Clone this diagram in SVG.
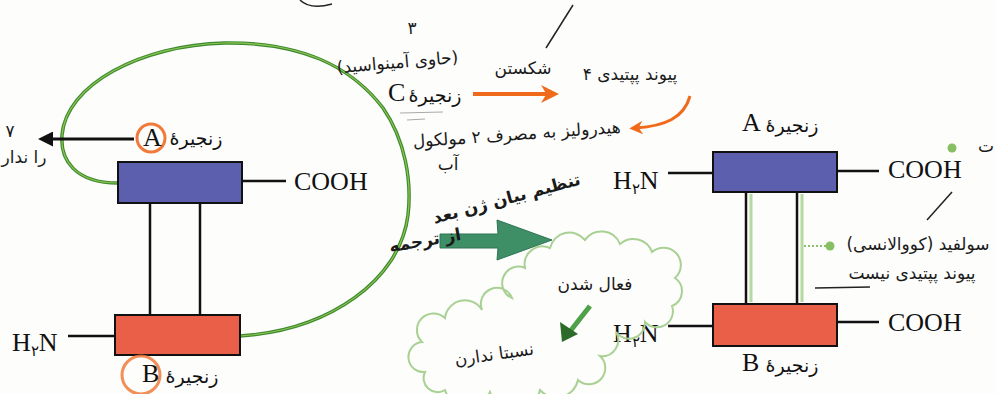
<svg xmlns="http://www.w3.org/2000/svg" width="996" height="394" viewBox="0 0 996 394">
<style>
.bar{stroke:#111;stroke-width:2}
.blue{fill:#5c5eae}
.red{fill:#ea5f47}
.ln{stroke:#111;stroke-width:2.5;fill:none}
.lat{font-family:"Liberation Serif",serif;font-size:26px;fill:#111}
.fa{font-family:"DejaVu Sans",sans-serif;font-size:19px;fill:#111;text-anchor:middle}
.hw{font-family:"DejaVu Sans",sans-serif;font-size:17px;fill:#1a1a1a;text-anchor:middle}
.ring{fill:none;stroke:#f07a3a;stroke-width:3}
.gmark{stroke:#a9d592;stroke-width:3;opacity:.85}
</style>
<defs>
<marker id="blk" viewBox="0 0 10 10" refX="2" refY="5" markerWidth="5" markerHeight="5" orient="auto-start-reverse"><path d="M0,0 L10,5 L0,10 z" fill="#111"/></marker>
<marker id="org" viewBox="0 0 10 10" refX="5" refY="5" markerWidth="4.5" markerHeight="4.5" orient="auto"><path d="M0,0 L10,5 L0,10 L3,5 z" fill="#f06a1c"/></marker>
</defs>
<rect width="996" height="394" fill="#fdfdfc"/>

<g id="connectors">
  <path d="M118,183 C75,183 60,160 62,135 C66,85 140,45 225,43 C300,42 350,65 383,108 C405,140 412,180 408,215 C400,280 330,330 240,336" fill="none" stroke="#3f8a2f" stroke-width="3.5"/>
  <path d="M118,183 C75,183 60,160 62,135 C66,85 140,45 225,43 C300,42 350,65 383,108 C405,140 412,180 408,215 C400,280 330,330 240,336" fill="none" stroke="#8cc653" stroke-width="1.2"/>
  <line x1="134" y1="139" x2="50" y2="139" stroke="#111" stroke-width="3" marker-end="url(#blk)"/>
  <line x1="473" y1="94" x2="550" y2="94" stroke="#f06a1c" stroke-width="4" marker-end="url(#org)"/>
  <path d="M690,96 C684,118 665,126 636,128" fill="none" stroke="#f06a1c" stroke-width="3" marker-end="url(#org)"/>
  <polygon points="440,234 498,234 497,220 552,240 497,260 498,248 440,248" fill="#3f8f66" stroke="#2f7352" stroke-width="1"/>
  <line x1="590" y1="306" x2="568" y2="334" stroke="#4ea04a" stroke-width="5"/>
  <polygon points="560,322 562,342 578,334" fill="#2d6b2a"/>
  <line x1="804" y1="246" x2="828" y2="246" stroke="#8cc070" stroke-width="2" stroke-dasharray="2 2"/>
  <circle cx="830" cy="246" r="4.5" fill="#86c063"/>
  <circle cx="952" cy="148" r="4.5" fill="#86c063"/>
</g>

<g id="chainA-left">
  <rect x="118" y="162" width="124" height="41" class="blue bar"/>
  <line x1="242" y1="181" x2="286" y2="181" class="ln"/>
  <text x="294" y="190" class="lat">COOH</text>
  <circle cx="151" cy="138" r="14" class="ring"/>
  <text x="143" y="146" class="lat" font-size="21">A</text>
  <text x="196" y="145" class="fa">زنجیرهٔ</text>
</g>
<g id="bridges-left">
  <line x1="150" y1="203" x2="150" y2="315" class="ln"/>
  <line x1="200" y1="203" x2="200" y2="315" class="ln"/>
</g>
<g id="chainB-left">
  <rect x="115" y="315" width="125" height="40" class="red bar"/>
  <line x1="68" y1="336" x2="115" y2="336" class="ln"/>
  <text x="12" y="351" class="lat">H<tspan font-size="15" dy="5">۲</tspan><tspan dy="-5">N</tspan></text>
  <circle cx="141" cy="375" r="19" class="ring" stroke-width="2.5" opacity=".85"/>
  <text x="142" y="382" class="lat" font-size="21">B</text>
  <text x="192" y="383" class="fa">زنجیرهٔ</text>
</g>
<g id="chainC">
  <text x="388" y="101" class="lat" font-size="20" fill="#1f2a5a">C</text>
  <text x="435" y="102" class="fa" fill="#1f2a5a">زنجیرهٔ</text>
  <path d="M400,113 L443,112 M407,120 L425,119" stroke="#aaa" stroke-width="1.2"/>
</g>

<g id="chainA-right">
  <text x="742" y="131" class="lat" font-size="20">A</text>
  <text x="792" y="132" class="fa">زنجیرهٔ</text>
  <rect x="713" y="152" width="124" height="40" class="blue bar"/>
  <line x1="668" y1="173" x2="713" y2="173" class="ln"/>
  <text x="613" y="189" class="lat">H<tspan font-size="15" dy="5">۲</tspan><tspan dy="-5">N</tspan></text>
  <line x1="837" y1="171" x2="879" y2="171" class="ln"/>
  <text x="888" y="178" class="lat">COOH</text>
</g>
<g id="bridges-right">
  <line x1="751" y1="194" x2="751" y2="302" class="gmark"/>
  <line x1="802" y1="194" x2="802" y2="302" class="gmark"/>
  <line x1="746" y1="192" x2="746" y2="304" class="ln"/>
  <line x1="797" y1="192" x2="797" y2="304" class="ln"/>
</g>
<g id="chainB-right">
  <rect x="713" y="304" width="124" height="42" class="red bar"/>
  <line x1="668" y1="326" x2="713" y2="326" class="ln"/>
  <text x="613" y="342" class="lat">H<tspan font-size="15" dy="5">۲</tspan><tspan dy="-5">N</tspan></text>
  <line x1="837" y1="322" x2="879" y2="322" class="ln"/>
  <text x="888" y="331" class="lat">COOH</text>
  <text x="742" y="371" class="lat" font-size="20">B</text>
  <text x="792" y="372" class="fa">زنجیرهٔ</text>
</g>

<g id="cloud">
  <path d="M425,372 A14,14 0 0 1 422,342 A16,16 0 0 1 445,318 A20,20 0 0 1 482,310 A16,16 0 0 1 512,298 A16,16 0 0 1 525,268 A18,18 0 0 1 550,248 A20,20 0 0 1 585,240 A20,20 0 0 1 620,244 A20,20 0 0 1 652,252 A16,16 0 0 1 675,278 A16,16 0 0 1 672,306 A16,16 0 0 1 645,322 A16,16 0 0 1 616,332 A16,16 0 0 1 600,356 A16,16 0 0 1 578,380 A22,22 0 0 1 540,390 A26,26 0 0 1 490,392 A24,24 0 0 1 445,390 A14,14 0 0 1 425,372 Z" fill="none" stroke="#a8d193" stroke-width="2"/>
  <text x="595" y="290" class="hw" font-size="22">فعال شدن</text>
  <text x="495" y="360" class="hw" font-size="19" transform="rotate(-8 495 360)">نسبتا ندارن</text>
</g>

<g id="notes">
  <path d="M300,0 Q310,10 332,4" fill="none" stroke="#222" stroke-width="1.5"/>
  <text x="10" y="137" class="hw" font-size="22">۷</text>
  <text x="24" y="163" class="hw" font-size="14">را ندار</text>
  <text x="412" y="34" class="hw" font-size="20">۳</text>
  <text x="398" y="68" class="hw" font-size="19" transform="rotate(-5 398 68)">(حاوی آمینواسید)</text>
  <path d="M573,5 L546,48" stroke="#222" stroke-width="1.5"/>
  <text x="523" y="74" class="hw">شکستن</text>
  <text x="630" y="80" class="hw" font-size="18">۴ پیوند پپتیدی</text>
  <text x="517" y="140" class="hw" font-size="18" transform="rotate(-4 517 140)">هیدرولیز به مصرف ۲ مولکول</text>
  <text x="448" y="170" class="hw">آب</text>
  <text x="508" y="204" class="hw" font-size="17" font-weight="bold" transform="rotate(-15 508 204)">تنظیم بیان ژن بعد</text>
  <text x="426" y="246" class="hw" font-size="17" font-weight="bold" transform="rotate(-10 426 246)">از ترجمه</text>
  <path d="M952,192 L927,220" stroke="#222" stroke-width="1.5"/>
  <text x="918" y="250" class="hw" font-size="18">سولفید (کووالانسی)</text>
  <text x="912" y="279" class="hw" font-size="19">پیوند پپتیدی نیست</text>
  <path d="M815,288 L870,287" stroke="#222" stroke-width="1.5"/>
  <text x="986" y="152" class="hw" font-size="18">ت</text>
</g>
</svg>
